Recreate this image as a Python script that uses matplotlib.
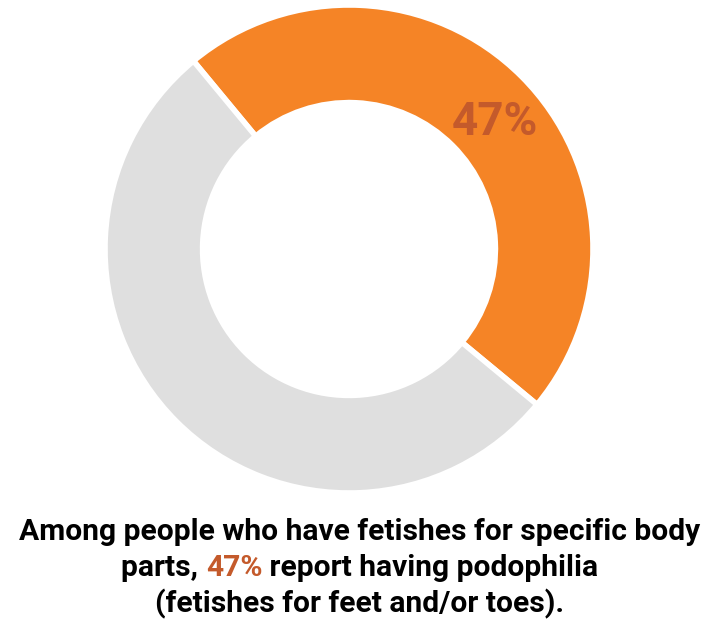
import matplotlib
matplotlib.use("Agg")
import matplotlib.pyplot as plt

# Data
labels = ["Podophilia", "Other"]
values = [47, 53]
pct_label = "47%"
caption_lines = [
    "Among people who have fetishes for specific body",
    ["parts, ", "47%", " report having podophilia"],
    "(fetishes for feet and/or toes).",
]

ORANGE = "#F58426"
GRAY = "#DFDFDF"
DARK_ORANGE = "#C45A2B"

W, H = 720, 625
fig = plt.figure(figsize=(W / 100, H / 100), dpi=100)
ax = fig.add_axes([0, 0, 1, 1])

cx, cy = 349, H - 249
R = 244
wedges, _ = ax.pie(values, colors=[ORANGE, GRAY], startangle=129.6, counterclock=False,
                   radius=R, center=(cx, cy),
                   wedgeprops=dict(width=R * 0.40, edgecolor="white", linewidth=4))
ax.set_xlim(0, W)
ax.set_ylim(0, H)
ax.set_aspect("equal")
ax.axis("off")

ax.text(495, H - 122, pct_label, ha="center", va="center", fontsize=33,
        fontweight="bold", family="Roboto", color=DARK_ORANGE)

# caption
fs = 21.6
baselines = [540, 576, 612]
fig.canvas.draw()
renderer = fig.canvas.get_renderer()
center_x = 360
for line, yb in zip(caption_lines, baselines):
    y = H - yb
    if isinstance(line, str):
        ax.text(center_x, y, line, ha="center", va="baseline", fontsize=fs,
                fontweight="bold", family="Roboto", color="black")
    else:
        colors = ["black", DARK_ORANGE, "black"]
        tmp = ax.text(0, 0, "".join(line).replace(" ", "\u00a0"), fontsize=fs,
                      fontweight="bold", family="Roboto")
        total = tmp.get_window_extent(renderer).width
        tmp.remove()
        x = center_x - total / 2
        for part, col in zip(line, colors):
            ax.text(x, y, part.replace(" ", "\u00a0"), ha="left", va="baseline", fontsize=fs,
                    fontweight="bold", family="Roboto", color=col)
            probe = ax.text(0, 0, part.replace(" ", "\u00a0"),
                            fontsize=fs, fontweight="bold", family="Roboto")
            w = probe.get_window_extent(renderer).width
            probe.remove()
            x += w

fig.savefig("out.png", dpi=100)
